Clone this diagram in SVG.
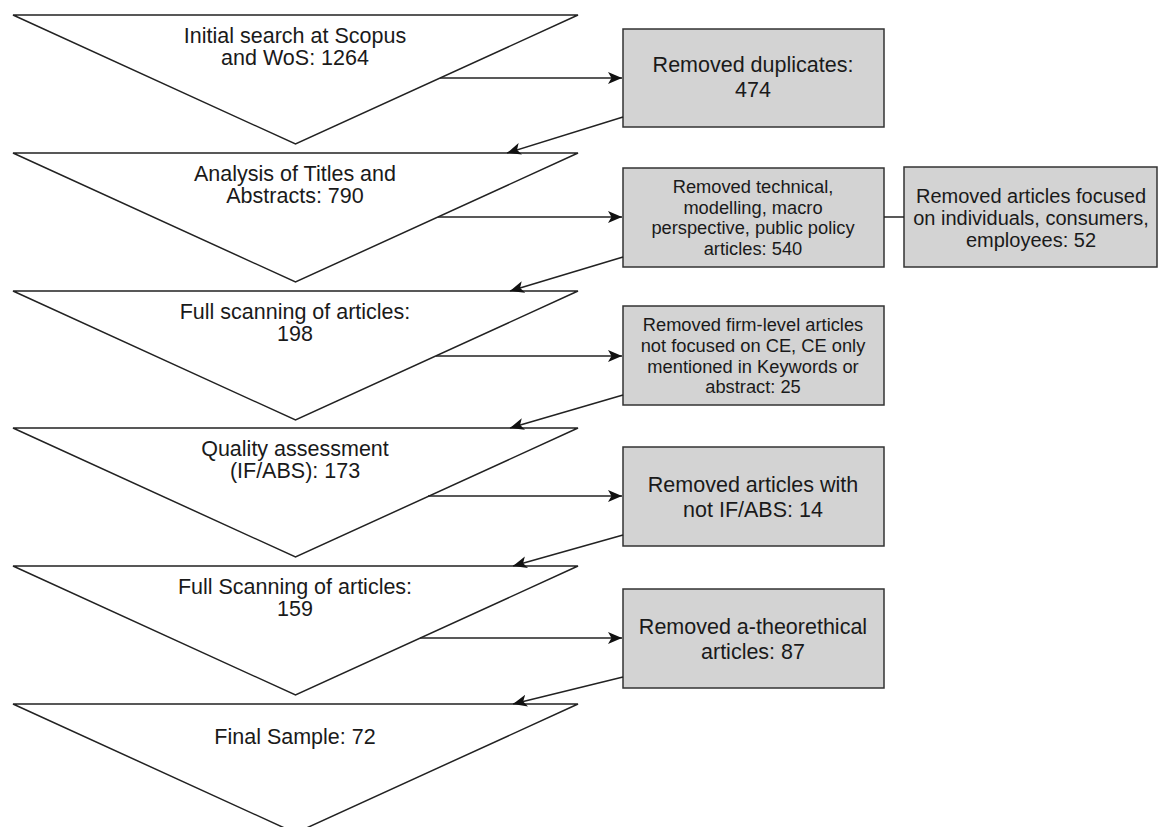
<svg xmlns="http://www.w3.org/2000/svg" width="1159" height="827" viewBox="0 0 1159 827">
<defs>
<marker id="ah" markerUnits="userSpaceOnUse" markerWidth="15" markerHeight="13" refX="14" refY="6" orient="auto">
<path d="M0,0 L14,6 L0,12 L3.5,6 z" fill="#111"/>
</marker>
<style>
.tri{fill:#fff;stroke:#222;stroke-width:1.5}
.box{fill:#d3d3d3;stroke:#333;stroke-width:1.5}
.t{font-family:"Liberation Sans",Arial,Helvetica,sans-serif;fill:#1a1a1a;text-anchor:middle}
.big{font-size:21.5px}
.mid{font-size:20px}
.sm{font-size:18.3px}
.c{fill:none;stroke:#222;stroke-width:1.5}
.ca{fill:none;stroke:#222;stroke-width:1.5;marker-end:url(#ah)}
</style>
</defs>
<rect width="1159" height="827" fill="#fff"/>
<g id="t1"><polygon class="tri" points="13,15 578,15 295.5,144"/>
<text class="t big" x="295" y="43">Initial search at Scopus</text>
<text class="t big" x="295" y="65">and WoS: 1264</text></g>
<g id="t2"><polygon class="tri" points="13,153 578,153 295.5,282"/>
<text class="t big" x="295" y="181">Analysis of Titles and</text>
<text class="t big" x="295" y="203">Abstracts: 790</text></g>
<g id="t3"><polygon class="tri" points="13,291 578,291 295.5,420"/>
<text class="t big" x="295" y="319">Full scanning of articles:</text>
<text class="t big" x="295" y="341">198</text></g>
<g id="t4"><polygon class="tri" points="13,428 578,428 295.5,557"/>
<text class="t big" x="295" y="456">Quality assessment</text>
<text class="t big" x="295" y="478">(IF/ABS): 173</text></g>
<g id="t5"><polygon class="tri" points="13,566 578,566 295.5,695"/>
<text class="t big" x="295" y="594">Full Scanning of articles:</text>
<text class="t big" x="295" y="616">159</text></g>
<g id="t6"><polygon class="tri" points="13,704 578,704 295.5,833"/>
<text class="t big" x="295" y="744">Final Sample: 72</text></g>
<g id="b1"><rect class="box" x="623" y="29" width="261" height="98"/>
<text class="t big" x="753" y="72">Removed duplicates:</text>
<text class="t big" x="753" y="97">474</text></g>
<g id="b2"><rect class="box" x="623" y="168" width="261" height="99"/>
<text class="t sm" x="753" y="193">Removed technical,</text>
<text class="t sm" x="753" y="214">modelling, macro</text>
<text class="t sm" x="753" y="234">perspective, public policy</text>
<text class="t sm" x="753" y="255">articles: 540</text></g>
<g id="b3"><rect class="box" x="904" y="167" width="253" height="100"/>
<text class="t mid" x="1031" y="203">Removed articles focused</text>
<text class="t mid" x="1031" y="225">on individuals, consumers,</text>
<text class="t mid" x="1031" y="247">employees: 52</text></g>
<g id="b4"><rect class="box" x="623" y="306" width="261" height="99"/>
<text class="t sm" x="753" y="331">Removed firm-level articles</text>
<text class="t sm" x="753" y="352">not focused on CE, CE only</text>
<text class="t sm" x="753" y="373">mentioned in Keywords or</text>
<text class="t sm" x="753" y="393">abstract: 25</text></g>
<g id="b5"><rect class="box" x="623" y="447" width="261" height="99"/>
<text class="t big" x="753" y="492">Removed articles with</text>
<text class="t big" x="753" y="517">not IF/ABS: 14</text></g>
<g id="b6"><rect class="box" x="623" y="589" width="261" height="99"/>
<text class="t big" x="753" y="634">Removed a-theorethical</text>
<text class="t big" x="753" y="659">articles: 87</text></g>
<g id="connectors">
<line class="ca" x1="440" y1="78" x2="622" y2="78"/>
<line class="ca" x1="623" y1="117" x2="507" y2="153"/>
<line class="ca" x1="438" y1="217" x2="622" y2="217"/>
<line class="ca" x1="623" y1="257" x2="510" y2="291"/>
<line class="c" x1="884" y1="217" x2="904" y2="217"/>
<line class="ca" x1="436" y1="356" x2="622" y2="356"/>
<line class="ca" x1="623" y1="395" x2="510" y2="428"/>
<line class="ca" x1="428" y1="496" x2="622" y2="496"/>
<line class="ca" x1="623" y1="535" x2="513" y2="566"/>
<line class="ca" x1="420" y1="638" x2="622" y2="638"/>
<line class="ca" x1="623" y1="677" x2="513" y2="704"/>
</g>
</svg>
